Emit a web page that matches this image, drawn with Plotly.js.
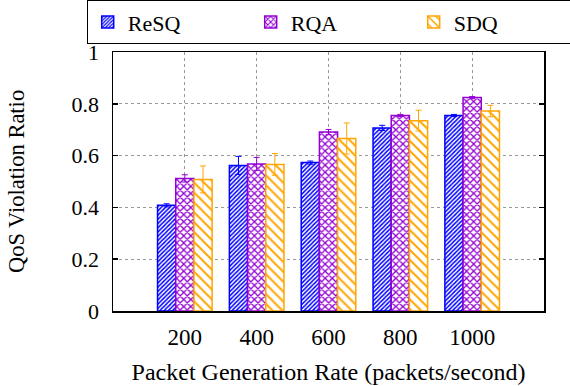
<!DOCTYPE html>
<html>
<head>
<meta charset="utf-8">
<script src="https://cdn.plot.ly/plotly-3.0.1.min.js"></script>
<style>html,body{margin:0;padding:0;background:#fff}#chart{width:570px;height:386px}</style>
</head>
<body>
<div id="chart"></div>
<script>
const categories = ["200", "400", "600", "800", "1000"];
const seriesNames = ["ReSQ", "RQA", "SDQ"];
const resqValues = [0.408, 0.562, 0.573, 0.707, 0.755];
const resqErrors = [0.006, 0.035, 0.006, 0.010, 0.004];
const rqaValues = [0.512, 0.568, 0.691, 0.755, 0.824];
const rqaErrors = [0.014, 0.025, 0.010, 0.004, 0.004];
const sdqValues = [0.508, 0.566, 0.666, 0.735, 0.772];
const sdqErrors = [0.052, 0.042, 0.060, 0.040, 0.022];
const yTicks = [0, 0.2, 0.4, 0.6, 0.8, 1];

const colors = ["#0000ff", "#9400d3", "#ffa500"];
const patterns = [
  {shape: "/", size: 3, solidity: 0.5},
  {shape: "x", size: 5, solidity: 0.45},
  {shape: "\\", size: 7, solidity: 0.28}
];
const vals = [resqValues, rqaValues, sdqValues];
const errs = [resqErrors, rqaErrors, sdqErrors];

const traces = seriesNames.map((n, i) => ({
  type: "bar",
  name: n,
  x: categories,
  y: vals[i],
  marker: {
    color: "#ffffff",
    line: {color: colors[i], width: 1.5},
    pattern: {shape: patterns[i].shape, size: patterns[i].size, solidity: patterns[i].solidity, fgcolor: colors[i], bgcolor: "#ffffff", fillmode: "replace"}
  },
  error_y: {type: "data", array: errs[i], visible: true, color: colors[i], thickness: 1, width: 3}
}));

const FAM = "Liberation Serif";
const f = (s) => ({family: FAM, size: s, color: "#000"});

const layout = {
  width: 570, height: 386,
  margin: {l: 113, r: 26, t: 52, b: 75, autoexpand: false},
  paper_bgcolor: "#fff", plot_bgcolor: "#fff",
  barmode: "group", bargap: 0.24, bargroupgap: 0,
  font: f(22),
  xaxis: {
    type: "category", range: [-1, 5],
    showline: true, linecolor: "#000", linewidth: 1.5, mirror: true,
    showgrid: true, gridcolor: "#999", griddash: "dot", gridwidth: 1,
    ticks: "", tickfont: f(23), ticklabelstandoff: 5,
    title: {text: "Packet Generation Rate (packets/second)", font: f(24), standoff: 14}
  },
  yaxis: {
    range: [0, 1], tickvals: yTicks, ticktext: yTicks.map(v => String(v)),
    showline: true, linecolor: "#000", linewidth: 1.5, mirror: "ticks",
    showgrid: true, gridcolor: "#999", griddash: "dot", gridwidth: 1,
    zeroline: false,
    ticks: "inside", ticklen: 5, tickcolor: "#000", tickwidth: 1.5,
    tickfont: f(22), ticklabelstandoff: 8,
    title: {text: "QoS Violation Ratio", font: f(22.5), standoff: 40}
  },
  legend: {
    orientation: "h", x: -0.061, xanchor: "left", y: 1.2, yanchor: "top",
    bordercolor: "#000", borderwidth: 1, bgcolor: "#fff",
    entrywidth: 118, entrywidthmode: "pixels",
    font: f(22), traceorder: "normal"
  },
  showlegend: true
};

Plotly.newPlot("chart", traces, layout, {staticPlot: true, displayModeBar: false});
</script>
</body>
</html>
